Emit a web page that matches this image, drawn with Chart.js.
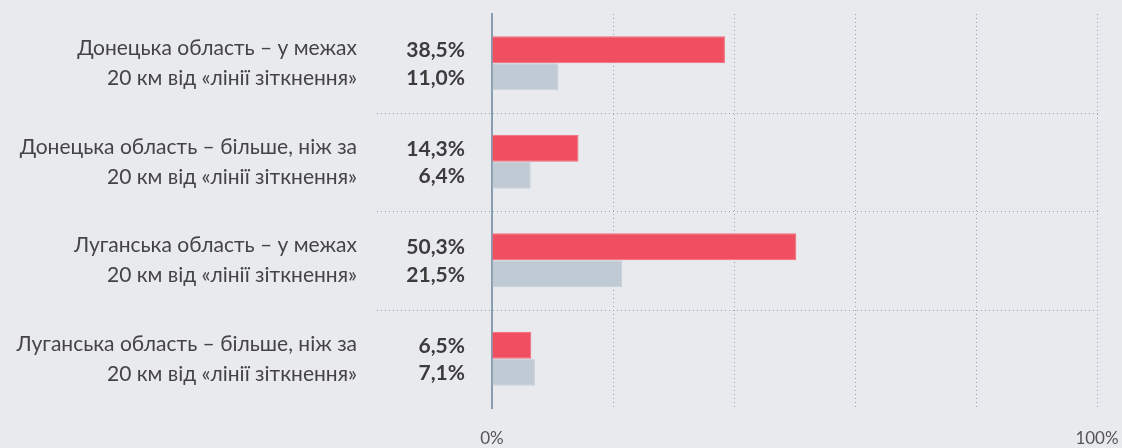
<!DOCTYPE html>
<html>
<head>
<meta charset="utf-8">
<script src="https://cdn.jsdelivr.net/npm/chart.js@4"></script>
<style>
    html, body { margin: 0; padding: 0; background: #e9eaee; }
    #wrap { width: 1122px; height: 448px; }
</style>
</head>
<body>
<div id="wrap"><canvas id="chart"></canvas></div>
<script>
const categories = [
    ['Донецька область – у межах', '20 км від «лінії зіткнення»'],
    ['Донецька область – більше, ніж за', '20 км від «лінії зіткнення»'],
    ['Луганська область – у межах', '20 км від «лінії зіткнення»'],
    ['Луганська область – більше, ніж за', '20 км від «лінії зіткнення»']
]
const seriesRed = [38.5, 14.3, 50.3, 6.5]
const seriesGray = [11.0, 6.4, 21.5, 7.1]
const xTicks = [0, 20, 40, 60, 80, 100]
const xTickLabels = ['0%', '', '', '', '', '100%']

const FONT = 'Lato, "Noto Sans", sans-serif'

// fond + séparateurs horizontaux pointillés entre catégories
const separators = {
    id: 'separators',
    beforeDraw(chart) {
        const c = chart.ctx
        c.save()
        c.fillStyle = '#e9eaee'
        c.fillRect(0, 0, chart.width, chart.height)
        c.restore()
    },
    beforeDatasetsDraw(chart) {
        const c = chart.ctx
        const y = chart.scales.y
        c.save()
        c.strokeStyle = '#8fa5b8'
        c.lineWidth = 1
        c.setLineDash([1, 3])
        for (let i = 1; i < categories.length; i++) {
            const py = Math.round((y.getPixelForValue(i - 1) + y.getPixelForValue(i)) / 2) + 0.5
            c.beginPath()
            c.moveTo(377, py)
            c.lineTo(chart.chartArea.right + 3, py)
            c.stroke()
        }
        c.restore()
    }
}

// valeurs en gras à gauche de l'axe
const valueLabels = {
    id: 'valueLabels',
    afterDatasetsDraw(chart) {
        const c = chart.ctx
        c.save()
        c.font = 'bold 21px ' + FONT
        c.fillStyle = '#3c3c3c'
        c.textAlign = 'right'
        c.textBaseline = 'middle'
        chart.data.datasets.forEach((ds, i) => {
            chart.getDatasetMeta(i).data.forEach((bar, j) => {
                const txt = ds.data[j].toFixed(1).replace('.', ',') + '%'
                c.fillText(txt, chart.chartArea.left - 27, bar.y + 1)
            })
        })
        c.restore()
    }
}

new Chart(document.getElementById('chart'), {
    type: 'bar',
    data: {
        labels: categories,
        datasets: [
            {
                data: seriesRed,
                backgroundColor: '#f04f61',
                borderColor: '#f26a79',
                borderWidth: 1,
                categoryPercentage: 0.55,
                barPercentage: 1
            },
            {
                data: seriesGray,
                backgroundColor: '#c0cad4',
                borderColor: '#c9d1da',
                borderWidth: 1,
                categoryPercentage: 0.55,
                barPercentage: 1
            }
        ]
    },
    options: {
        indexAxis: 'y',
        responsive: true,
        maintainAspectRatio: false,
        animation: false,
        events: [],
        layout: { padding: { top: 14, right: 25, bottom: 0, left: 0 } },
        plugins: {
            legend: { display: false },
            tooltip: { enabled: false }
        },
        scales: {
            x: {
                min: 0,
                max: 100,
                afterBuildTicks(scale) {
                    scale.ticks = xTicks.map((v) => ({ value: v }))
                },
                afterFit(scale) {
                    scale.height = 40
                    scale.paddingLeft = 0
                    scale.paddingRight = 0
                },
                ticks: {
                    padding: 20,
                    color: '#555',
                    font: { family: FONT, size: 17 },
                    callback: (v, i) => xTickLabels[i]
                },
                grid: { color: '#8fa5b8', lineWidth: 1, drawTicks: false },
                border: { display: false, dash: [1, 3] }
            },
            y: {
                afterFit(scale) {
                    scale.width = 492
                    scale.paddingTop = 0
                    scale.paddingBottom = 0
                },
                ticks: {
                    padding: 135,
                    color: '#444',
                    font: { family: FONT, size: 21, lineHeight: 1.43 }
                },
                grid: { display: false, drawTicks: false },
                border: { display: true, color: '#8a9caf', width: 2 }
            }
        }
    },
    plugins: [separators, valueLabels]
})
</script>
</body>
</html>
